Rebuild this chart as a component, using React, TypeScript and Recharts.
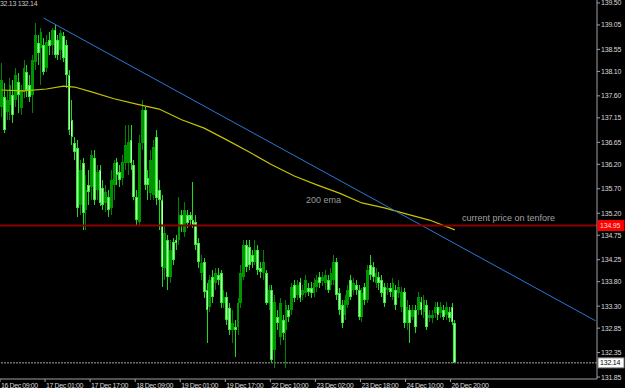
import { ComposedChart, Bar, Line, XAxis, YAxis, ReferenceLine } from 'recharts';

// bottom axis: one label every 16 hourly bars
const timeLabels = [
  '16 Dec 09:00', '17 Dec 01:00', '17 Dec 17:00', '18 Dec 09:00', '19 Dec 01:00', '19 Dec 17:00',
  '22 Dec 10:00', '23 Dec 02:00', '23 Dec 18:00', '24 Dec 10:00', '26 Dec 20:00',
];
const barsPerLabel = 16;
const slotCount = 212; // candles + empty space on the right

const priceTicks = [
  139.5, 139.05, 138.55, 138.1, 137.6, 137.15, 136.65, 136.2, 135.7,
  135.2, 134.75, 134.25, 133.8, 133.3, 132.85, 132.35, 131.85,
];
const priceDomain = [131.81, 139.56];
const markedPrice = 134.95;
const bidPrice = 132.14;

// [open, high, low, close], one per hour
const ohlc: [number, number, number, number][] = [
  [137.37, 138.27, 137.17, 137.92], [137.58, 137.86, 136.84, 136.90], [137.27, 137.72, 137.11, 137.52],
  [137.41, 137.96, 137.11, 137.82], [137.62, 137.92, 137.05, 137.21], [137.52, 138.17, 137.37, 138.03],
  [137.88, 138.07, 137.25, 137.62], [137.35, 137.82, 137.21, 137.72], [137.68, 138.33, 137.56, 138.17],
  [138.09, 138.23, 137.58, 137.72], [137.82, 138.03, 137.47, 137.58], [137.62, 138.44, 137.25, 138.33],
  [138.29, 139.09, 138.13, 138.84], [138.68, 138.84, 138.23, 138.48], [138.58, 138.99, 137.82, 138.91],
  [138.64, 138.78, 138.03, 138.09], [138.17, 138.84, 138.09, 138.70], [138.74, 138.91, 138.44, 138.62],
  [138.64, 138.99, 138.44, 138.95], [138.95, 139.05, 138.37, 138.44], [138.74, 138.84, 138.33, 138.44],
  [138.54, 138.95, 138.33, 138.89], [138.82, 138.91, 138.29, 138.37], [138.64, 138.74, 137.76, 138.03],
  [138.03, 138.13, 136.80, 136.90], [137.11, 137.52, 136.59, 136.76], [136.64, 136.76, 136.29, 136.45],
  [136.53, 136.70, 135.12, 135.31], [135.37, 136.29, 135.16, 136.08], [136.23, 136.33, 134.86, 135.20],
  [135.27, 135.98, 134.86, 135.67], [135.78, 136.08, 135.37, 135.63], [135.74, 136.49, 135.47, 136.39],
  [136.33, 136.49, 135.37, 135.47], [135.67, 136.19, 135.47, 136.04], [136.08, 136.19, 135.35, 135.41],
  [135.72, 135.88, 135.27, 135.37], [135.41, 135.78, 135.23, 135.63], [135.53, 135.67, 135.12, 135.27],
  [135.31, 136.08, 135.16, 135.88], [135.78, 136.29, 135.47, 136.23], [136.25, 136.33, 135.78, 135.98],
  [136.04, 136.19, 135.74, 135.88], [135.92, 136.39, 135.78, 136.25], [136.23, 137.00, 136.08, 136.59],
  [136.23, 137.00, 135.98, 136.66], [136.70, 137.00, 136.08, 136.23], [136.19, 136.29, 135.47, 135.53],
  [135.53, 135.67, 134.96, 135.06], [135.02, 136.80, 134.96, 136.64], [136.64, 137.52, 136.49, 137.31],
  [137.31, 137.37, 135.67, 135.78], [135.92, 136.08, 135.47, 135.78], [135.61, 136.49, 135.47, 136.29],
  [135.57, 136.70, 135.47, 136.55], [136.76, 136.90, 135.37, 135.51], [135.67, 135.88, 134.86, 135.47],
  [135.47, 135.57, 133.69, 134.10], [134.08, 134.96, 133.83, 134.80], [134.65, 134.75, 133.63, 133.90],
  [133.90, 134.65, 133.77, 134.45], [134.61, 134.69, 134.14, 134.24], [134.65, 134.75, 134.45, 134.59],
  [134.65, 135.53, 134.55, 135.16], [135.16, 135.27, 134.82, 134.96], [134.82, 135.43, 134.71, 135.27],
  [135.16, 135.27, 134.90, 135.00], [135.16, 135.23, 134.96, 135.06], [135.06, 135.84, 134.90, 134.96],
  [135.02, 135.16, 134.45, 134.55], [134.59, 134.69, 134.08, 134.20], [133.98, 134.35, 133.83, 134.18],
  [134.20, 134.28, 133.47, 133.59], [133.63, 133.77, 132.55, 133.22], [133.28, 133.94, 133.18, 133.83],
  [133.90, 134.04, 133.36, 133.49], [133.77, 134.08, 133.63, 133.98], [133.94, 134.08, 133.73, 133.83],
  [133.98, 134.04, 133.26, 133.36], [133.36, 133.63, 133.26, 133.49], [133.49, 133.59, 132.91, 133.02],
  [133.26, 133.36, 132.71, 132.81], [132.81, 133.22, 132.55, 132.95], [132.87, 133.02, 132.26, 132.81],
  [132.87, 133.47, 132.71, 133.36], [133.36, 134.14, 133.26, 133.98], [133.90, 134.65, 133.83, 134.55],
  [134.55, 134.65, 134.00, 134.10], [134.51, 134.65, 134.04, 134.14], [134.35, 134.45, 134.08, 134.20],
  [134.20, 134.65, 134.14, 134.45], [134.45, 134.55, 133.94, 134.04], [134.08, 134.20, 133.87, 134.00],
  [133.98, 134.45, 133.83, 134.20], [133.98, 134.04, 133.32, 133.36], [133.36, 133.73, 133.22, 133.63],
  [133.63, 133.73, 132.16, 132.20], [132.40, 133.53, 132.03, 133.38], [133.08, 133.22, 132.81, 132.95],
  [132.67, 133.47, 132.51, 133.36], [133.02, 133.12, 132.61, 132.75], [132.81, 133.43, 132.03, 133.32],
  [133.22, 133.32, 132.97, 133.08], [133.22, 133.77, 133.12, 133.69], [133.73, 133.83, 133.38, 133.47],
  [133.53, 133.83, 133.43, 133.73], [133.79, 133.87, 133.38, 133.47], [133.53, 133.73, 133.43, 133.63],
  [133.57, 133.94, 133.49, 133.83], [133.67, 133.77, 133.51, 133.59], [133.67, 133.79, 133.47, 133.57],
  [133.57, 133.87, 133.49, 133.77], [133.69, 133.94, 133.59, 133.83], [133.90, 134.00, 133.67, 133.77],
  [133.81, 134.00, 133.71, 133.90], [133.77, 134.04, 133.63, 133.94], [133.83, 133.94, 133.57, 133.63],
  [133.73, 134.08, 133.63, 133.98], [133.83, 134.35, 133.73, 134.20], [134.20, 134.28, 133.43, 133.53],
  [133.57, 133.67, 133.12, 133.22], [133.32, 133.43, 132.85, 132.95], [133.12, 133.53, 133.02, 133.43],
  [133.32, 133.73, 133.26, 133.63], [133.83, 133.94, 133.43, 133.49], [133.63, 133.87, 133.53, 133.77],
  [133.73, 133.83, 133.53, 133.63], [133.63, 133.73, 133.02, 133.08], [133.08, 133.67, 132.97, 133.57],
  [133.69, 133.77, 133.32, 133.43], [133.43, 134.14, 133.36, 134.04], [134.14, 134.35, 133.83, 133.94],
  [134.10, 134.20, 133.79, 133.90], [133.77, 134.08, 133.67, 133.98], [133.90, 134.00, 133.63, 133.77],
  [133.83, 133.94, 133.49, 133.57], [133.69, 133.77, 133.28, 133.36], [133.63, 133.77, 133.53, 133.67],
  [133.67, 133.77, 133.49, 133.59], [133.49, 133.87, 133.43, 133.77], [133.63, 133.73, 133.22, 133.32],
  [133.57, 133.83, 133.47, 133.69], [133.28, 133.69, 133.18, 133.59], [133.59, 133.67, 132.85, 132.95],
  [132.95, 133.43, 132.81, 133.28], [133.22, 133.32, 132.55, 132.95], [133.08, 133.32, 133.02, 133.22],
  [133.22, 133.32, 132.75, 132.87], [133.22, 133.59, 133.12, 133.49], [133.38, 133.49, 133.12, 133.22],
  [133.18, 133.53, 133.06, 133.43], [133.32, 133.43, 132.81, 132.87], [133.06, 133.22, 132.97, 133.12],
  [133.06, 133.22, 132.95, 133.12], [133.16, 133.38, 133.06, 133.28], [133.28, 133.38, 133.02, 133.12],
  [133.16, 133.38, 133.06, 133.28], [133.22, 133.32, 133.02, 133.08], [133.12, 133.38, 133.02, 133.28],
  [133.18, 133.28, 132.97, 133.06], [133.28, 133.36, 132.91, 132.97], [132.95, 133.02, 132.14, 132.14],
];

// 200 ema, sampled at bar index
const emaPoints: [number, number][] = [
  [0, 137.72], [8, 137.70], [16, 137.74], [22, 137.80], [26, 137.78], [32, 137.68], [40, 137.54],
  [48, 137.43], [56, 137.33], [64, 137.11], [72, 136.94], [80, 136.70], [88, 136.45], [96, 136.19],
  [104, 135.96], [112, 135.78], [120, 135.61], [128, 135.41], [136, 135.31], [144, 135.18],
  [152, 135.06], [161, 134.86],
];

// hand-drawn trendline, [bar index, price]
const trendPoints: [number, number][] = [[15, 139.19], [211, 133.0]];

const AXIS = '#a0a0a0';
const TXT = '#d8d8d8';
const FONT = '"Liberation Sans", Arial, sans-serif';

const rows = Array.from({ length: slotCount }, (_, i) => {
  const c = ohlc[i];
  const e = emaPoints.find((p) => p[0] === i);
  const t = trendPoints.find((p) => p[0] === i);
  return {
    idx: i,
    range: c ? [c[2], c[1]] : null,
    o: c ? c[0] : null,
    h: c ? c[1] : null,
    l: c ? c[2] : null,
    cl: c ? c[3] : null,
    ema: e ? e[1] : null,
    trend: t ? t[1] : null,
  };
});

const Candle = (props: any) => {
  const { x, y, width, height, payload } = props;
  if (!payload || payload.o == null || height == null) return null;
  const top = Math.min(y, y + height);
  const span = Math.abs(height);
  const { o, h, l, cl } = payload;
  const k = h > l ? span / (h - l) : 0;
  const bodyTop = top + (h - Math.max(o, cl)) * k;
  const bodyH = Math.max(1, Math.abs(o - cl) * k);
  const bear = cl < o;
  const cx = x + width / 2;
  const bw = Math.max(1, width - 0.2);
  return (
    <g shapeRendering="crispEdges">
      <line x1={cx} x2={cx} y1={top} y2={top + span} stroke={bear ? '#22d822' : '#008200'} strokeWidth={1} />
      <rect x={cx - bw / 2} y={bodyTop} width={bw} height={bodyH} fill={bear ? '#2cf02c' : '#009400'} />
      {bear && bodyH > 2 && (
        <line x1={cx} x2={cx} y1={bodyTop + 1} y2={bodyTop + bodyH - 1} stroke="#b8ffb8" strokeWidth={1} />
      )}
    </g>
  );
};

const TimeTick = ({ x, y, payload }: any) => {
  const i = payload.value;
  if (i % barsPerLabel !== 0) return null;
  const text = timeLabels[i / barsPerLabel];
  if (!text) return null;
  const left = x - 1.4;
  return (
    <g>
      <line x1={left} x2={left} y1={y} y2={y + 3} stroke={AXIS} />
      <text x={left + 1} y={y + 9} fill={TXT} fontSize={7} letterSpacing={-0.4} fontFamily={FONT}>
        {text}
      </text>
    </g>
  );
};

const PriceTick = ({ x, y, payload }: any) => {
  const v = payload.value;
  const label = Number(v).toFixed(2);
  if (v === markedPrice || v === bidPrice) {
    const red = v === markedPrice;
    return (
      <g>
        <rect x={x + 1} y={y - 5} width={26} height={10} fill={red ? '#ff0000' : '#ffffff'} stroke={red ? '#ff0000' : '#808080'} />
        <text x={x + 3} y={y} dominantBaseline="central" fill={red ? '#ffd8d8' : '#000'} fontSize={7} letterSpacing={-0.2} fontFamily={FONT}>
          {label}
        </text>
      </g>
    );
  }
  return (
    <g>
      <line x1={x} x2={x + 3} y1={y} y2={y} stroke={AXIS} />
      <text x={x + 4} y={y} dominantBaseline="central" fill={TXT} fontSize={7} letterSpacing={-0.2} fontFamily={FONT}>
        {label}
      </text>
    </g>
  );
};

export default function App() {
  return (
    <div style={{ position: 'relative', width: 625, height: 388, background: '#000', overflow: 'hidden', fontFamily: FONT }}>
      <style>{'body{margin:0;background:#000}'}</style>
      <ComposedChart
        width={625}
        height={388}
        data={rows}
        margin={{ top: 0, right: 0, bottom: 0, left: 0 }}
        barCategoryGap={0}
        barGap={0}
      >
        <XAxis
          dataKey="idx"
          type="category"
          height={9}
          interval={0}
          tickSize={0}
          tickMargin={0}
          tickLine={false}
          tick={<TimeTick />}
          axisLine={{ stroke: AXIS }}
        />
        <YAxis
          orientation="right"
          type="number"
          width={28}
          domain={priceDomain}
          allowDataOverflow
          ticks={[...priceTicks, markedPrice, bidPrice]}
          interval={0}
          tickSize={0}
          tickMargin={0}
          tickLine={false}
          tick={<PriceTick />}
          axisLine={{ stroke: AXIS }}
        />
        <ReferenceLine y={bidPrice} stroke="#6e6e6e" strokeDasharray="2 1" strokeWidth={1.5} />
        <Bar dataKey="range" isAnimationActive={false} shape={(p: any) => <Candle {...p} />} />
        <Line dataKey="ema" stroke="#c4c400" strokeWidth={1.2} dot={false} connectNulls isAnimationActive={false} />
        <Line dataKey="trend" stroke="#2a78d6" strokeWidth={1} dot={false} connectNulls isAnimationActive={false} />
        <ReferenceLine y={markedPrice} stroke="#8a0000" strokeWidth={2} />
      </ComposedChart>
      <div style={{ position: 'absolute', left: 0, top: 0, fontSize: 7, lineHeight: '8px', letterSpacing: -0.3, color: '#c8c8c8', whiteSpace: 'nowrap' }}>
        32.13 132.14
      </div>
      <div style={{ position: 'absolute', left: 306, top: 194, fontSize: 9, lineHeight: '12px', color: '#9a9a9a', whiteSpace: 'nowrap' }}>
        200 ema
      </div>
      <div style={{ position: 'absolute', left: 462, top: 212, fontSize: 9, lineHeight: '12px', color: '#a0a0a0', whiteSpace: 'nowrap' }}>
        current price on tenfore
      </div>
    </div>
  );
}
